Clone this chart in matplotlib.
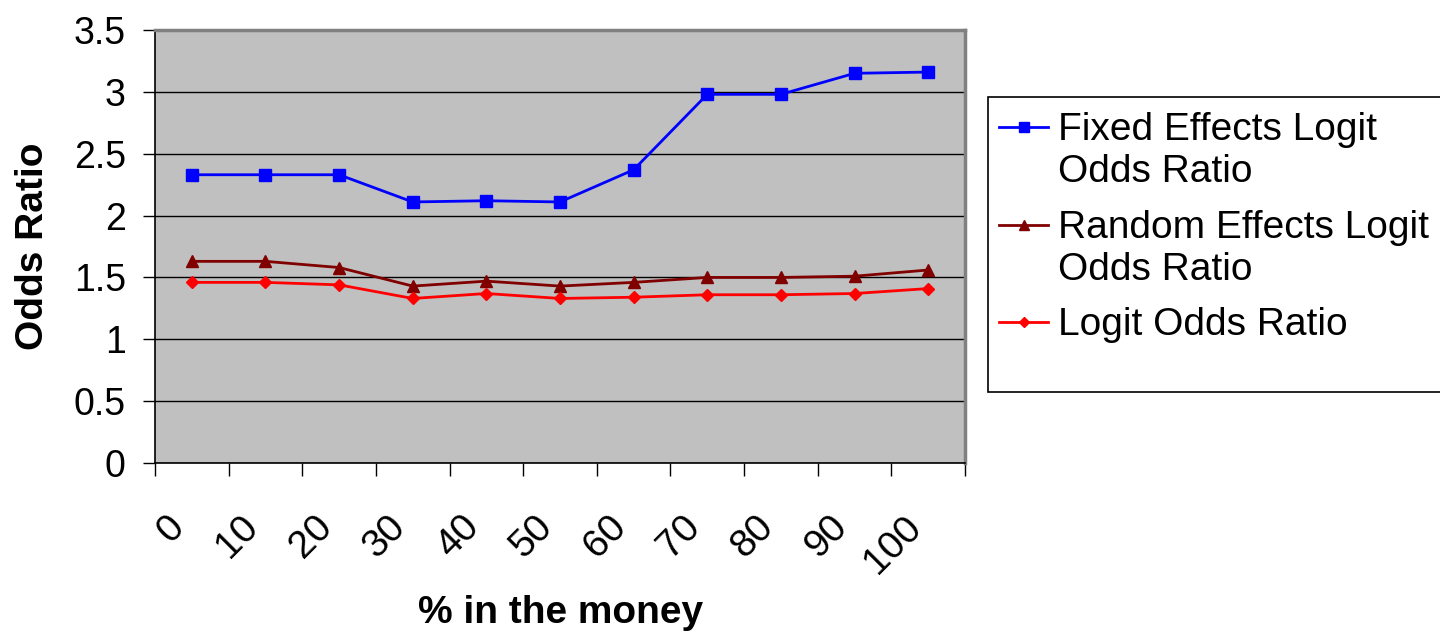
import matplotlib.pyplot as plt
from matplotlib.lines import Line2D
from matplotlib.patches import Rectangle
from matplotlib.ticker import FixedLocator
from matplotlib.transforms import ScaledTranslation

plt.rcParams['font.family'] = ['Liberation Sans', 'DejaVu Sans']

# Daten
categories = ['0', '10', '20', '30', '40', '50', '60', '70', '80', '90', '100']
fixed = [2.33, 2.33, 2.33, 2.11, 2.12, 2.11, 2.37, 2.98, 2.98, 3.15, 3.16]
random_eff = [1.63, 1.63, 1.58, 1.43, 1.47, 1.43, 1.46, 1.50, 1.50, 1.51, 1.56]
logit = [1.46, 1.46, 1.44, 1.33, 1.37, 1.33, 1.34, 1.36, 1.36, 1.37, 1.41]
yticks = [0, 0.5, 1, 1.5, 2, 2.5, 3, 3.5]
ytick_labels = ['0', '0.5', '1', '1.5', '2', '2.5', '3', '3.5']
labels = ['Fixed Effects Logit\nOdds Ratio',
          'Random Effects Logit\nOdds Ratio',
          'Logit Odds Ratio']

W, H = 1440, 632
fig = plt.figure(figsize=(W / 100, H / 100), dpi=100)
ax = fig.add_axes([155 / W, 1 - 463 / H, 810 / W, 433 / H])
ax.set_facecolor('#C0C0C0')

series = [
    (fixed, '#0000FF', 's', 8),
    (random_eff, '#800000', '^', 8),
    (logit, '#FF0000', 'D', 6),
]
x = list(range(len(categories)))
for vals, col, mk, ms in series:
    ax.plot(x, vals, color=col, lw=2, marker=mk, ms=ms)

ax.set_xlim(-0.5, len(categories) - 0.5)
ax.set_ylim(0, 3.5)
ax.yaxis.set_major_locator(FixedLocator(yticks))
ax.set_yticklabels(ytick_labels)
ax.grid(axis='y', color='black', lw=1)
ax.set_axisbelow(True)

# Kategorienachse: Striche an den Grenzen, Beschriftung in der Mitte
ax.xaxis.set_major_locator(FixedLocator([i - 0.5 for i in range(len(categories) + 1)]))
ax.xaxis.set_minor_locator(FixedLocator(x))
ax.set_xticklabels([], minor=False)
ax.set_xticklabels(categories, minor=True, rotation=45, ha='right', va='top',
                   fontsize=28)
off = ScaledTranslation(-15 / 100, 0, fig.dpi_scale_trans)
for lbl in ax.get_xticklabels(minor=True):
    lbl.set_transform(lbl.get_transform() + off)
ax.tick_params(axis='x', which='major', direction='out', length=9.5, width=1)
ax.tick_params(axis='x', which='minor', length=0, pad=33)
ax.tick_params(axis='y', direction='out', length=9, width=1, labelsize=27, pad=12)

for s in ['top', 'right']:
    ax.spines[s].set_color('#808080')
    ax.spines[s].set_linewidth(2.5)
ax.spines['left'].set_linewidth(1.2)
ax.spines['bottom'].set_linewidth(1.2)

ax.set_xlabel('% in the money', fontsize=28, fontweight='bold')
ax.xaxis.set_label_coords((561 - 155) / 810, (463 - 595) / 433)
ax.set_ylabel('Odds Ratio', fontsize=28, fontweight='bold')
ax.yaxis.set_label_coords((51 - 155) / 810, 0.5)

# Legende von Hand (Excel-Stil)
fig.patches.append(Rectangle((988 / W, 1 - 392 / H), 470 / W, 295 / H,
                             transform=fig.transFigure, facecolor='white',
                             edgecolor='black', lw=1.2))
base = 140
for (vals, col, mk, ms), lab in zip(series, labels):
    yh = 1 - (base - 13) / H
    fig.lines.append(Line2D([999 / W, 1048 / W], [yh, yh], transform=fig.transFigure,
                            color=col, lw=2))
    fig.lines.append(Line2D([1023.5 / W], [yh], transform=fig.transFigure,
                            color=col, marker=mk, ms=ms * 0.85, ls='none'))
    lines = lab.split('\n')
    for j, t in enumerate(lines):
        fig.text(1058 / W, 1 - (base + j * 42.5) / H, t, fontsize=28,
                 va='baseline', ha='left')
    base += (len(lines) - 1) * 42.5 + 55

plt.savefig('out.png', dpi=100)
